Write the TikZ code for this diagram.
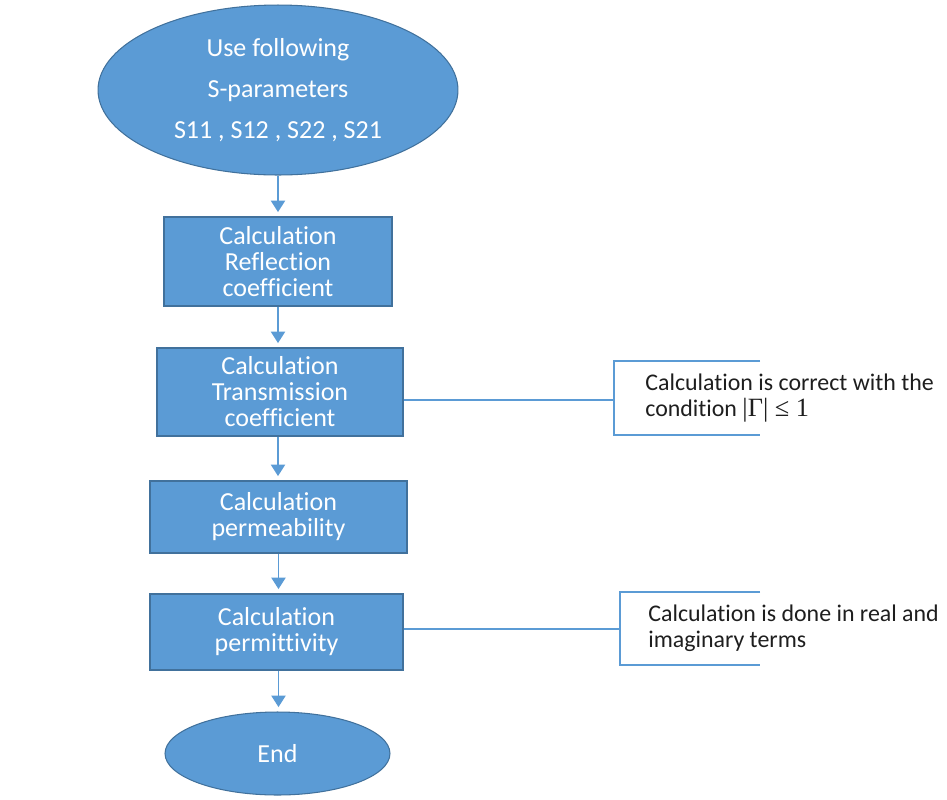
\documentclass[tikz,border=0pt]{standalone}
\usepackage{fontspec}
\setmainfont{Carlito}[Ligatures=NoCommon]
\newfontfamily\condfont{Liberation Serif}
\usetikzlibrary{shapes.geometric,arrows.meta}
\definecolor{flowfill}{RGB}{91,155,213}
\definecolor{flowedge}{RGB}{65,113,156}
\definecolor{notetext}{RGB}{30,30,30}

\tikzset{
  procbox/.style={rectangle, draw=flowedge, fill=flowfill, line width=0.6pt,
    text=white, align=center, inner sep=0pt,
    font=\fontsize{14.8}{14.8}\selectfont},
  termnode/.style={ellipse, draw=flowedge, fill=flowfill, line width=0.6pt,
    text=white, align=center, inner sep=0pt,
    font=\fontsize{14.8}{14.8}\selectfont},
  flowarrow/.style={draw=flowfill, line width=1pt,
    -{Triangle[width=8pt,length=6.5pt]}, shorten >=2.5pt},
  bracketline/.style={draw=flowfill, line width=0.8pt},
  note/.style={anchor=west, align=left, inner sep=0pt, text=notetext,
    font=\fontsize{13.6}{13.6}\selectfont}
}

\begin{document}
\begin{tikzpicture}[x=0.02cm, y=-0.02cm]
\useasboundingbox (0,0) rectangle (947,799);

% flow chart column
\node[termnode, minimum width=7.2cm, minimum height=3.4cm] (start) at (278,90)
  {Use following\\[8.4pt] S-parameters\\[8.4pt] S11 , S12 , S22 , S21};
\node[procbox, minimum width=4.56cm, minimum height=1.78cm] (reflect) at (278,261.5)
  {Calculation\\ Reflection\\ coefficient};
\node[procbox, minimum width=4.92cm, minimum height=1.76cm] (transmit) at (280,392)
  {Calculation\\ Transmission\\ coefficient};
\node[procbox, minimum width=5.14cm, minimum height=1.44cm] (permeab) at (278.5,517)
  {Calculation\\ permeability};
\node[procbox, minimum width=5.06cm, minimum height=1.52cm] (permitt) at (276.5,632)
  {Calculation\\ permittivity};
\node[termnode, minimum width=4.5cm, minimum height=1.66cm] (finish) at (277.5,753.5)
  {End};

\draw[flowarrow] (start.south) -- (start.south |- reflect.north);
\draw[flowarrow] (reflect.south) -- (reflect.south |- transmit.north);
\draw[flowarrow] (transmit.south -| reflect.south) -- (reflect.south |- permeab.north);
\draw[flowarrow] (permeab.south) -- (permeab.south |- permitt.north);
\draw[flowarrow] (permitt.south -| permeab.south) -- (permeab.south |- finish.north);

% side remarks
\coordinate (brace1) at (614,400);
\draw[bracketline] (transmit.east |- brace1) -- (brace1);
\draw[bracketline] (760,361) -- (614,361) -- (614,435) -- (760,435);
\node[note] (remark1) at (645,398)
  {Calculation is correct with the\\[1pt] condition {\condfont\fontsize{15}{15}\selectfont|Γ| ≤ 1}};

\coordinate (brace2) at (620,629);
\draw[bracketline] (permitt.east |- brace2) -- (brace2);
\draw[bracketline] (760,592) -- (620,592) -- (620,665) -- (760,665);
\node[note] (remark2) at (648,628)
  {Calculation is done in real and\\[1pt] imaginary terms};
\end{tikzpicture}
\end{document}
